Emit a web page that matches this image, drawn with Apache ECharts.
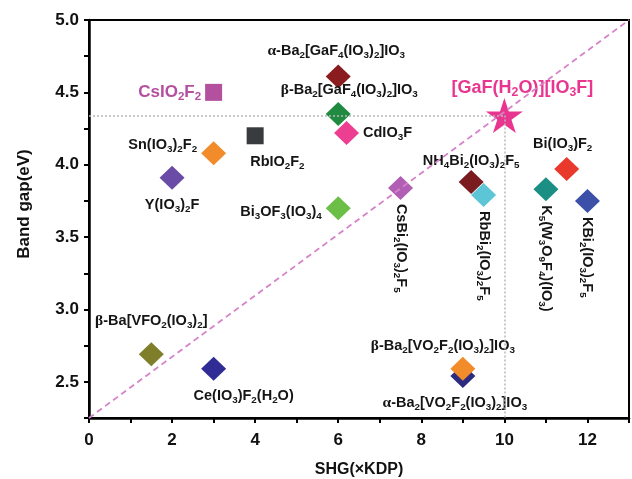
<!DOCTYPE html>
<html>
<head>
<meta charset="utf-8">
<script src="https://cdn.jsdelivr.net/npm/echarts@6/dist/echarts.min.js"></script>
<style>
  html, body { margin: 0; padding: 0; background: #fff; }
  #main { width: 632px; height: 479px; }
</style>
</head>
<body>
<div id="main"></div>
<script>
// compounds, SHG (x KDP) and band gap (eV); "_n" marks a subscript
const compounds = [
  'CsIO_2F_2', 'RbIO_2F_2', 'Sn(IO_3)_2F_2', 'Y(IO_3)_2F',
  'α-Ba_2[GaF_4(IO_3)_2]IO_3', 'β-Ba_2[GaF_4(IO_3)_2]IO_3', 'CdIO_3F', 'Bi_3OF_3(IO_3)_4',
  'CsBi_2(IO_3)_2F_5', 'NH_4Bi_2(IO_3)_2F_5', 'RbBi_2(IO_3)_2F_5', 'K_5(W_3O_9F_4)(IO_3)',
  'Bi(IO_3)F_2', 'KBi_2(IO_3)_2F_5', 'β-Ba[VFO_2(IO_3)_2]', 'Ce(IO_3)F_2(H_2O)',
  'α-Ba_2[VO_2F_2(IO_3)_2]IO_3', 'β-Ba_2[VO_2F_2(IO_3)_2]IO_3', '[GaF(H_2O)][IO_3F]'
]
const shg = [3.0, 4.0, 3.0, 2.0, 6.0, 6.0, 6.2, 6.0, 7.5, 9.2, 9.5, 11.0, 11.5, 12.0, 1.5, 3.0, 9.0, 9.0, 10.0]
const gap = [4.50, 4.20, 4.08, 3.91, 4.61, 4.35, 4.22, 3.70, 3.84, 3.88, 3.79, 3.83, 3.97, 3.75, 2.69, 2.59, 2.54, 2.59, 4.34]

const xTicks = [0, 2, 4, 6, 8, 10, 12]
const yTicks = [2.5, 3.0, 3.5, 4.0, 4.5, 5.0]

// styles
const colors = ['#b3519f', '#3a3b3e', '#f28b2a', '#6a4ba6', '#8a1c20', '#1f8a40', '#ec3f91', '#6cbf46',
  '#b15fb4', '#7a1b20', '#5cc6d6', '#1c8f84', '#e8392c', '#3c50a7', '#7f7e2a', '#2f2d95',
  '#2c2b80', '#f28b2a', '#e8358f']
const shapes = ['rect', 'rect', 'diamond', 'diamond', 'diamond', 'diamond', 'diamond', 'diamond',
  'diamond', 'diamond', 'diamond', 'diamond', 'diamond', 'diamond', 'diamond', 'diamond',
  'diamond', 'diamond', 'star']
// label placement: [position, dx, dy, rotated, align]
const labelPlace = [
  ['left', 0, 0], ['bottom', -5, 4, false, 'left'], ['left', 0, -8], ['bottom', 0, 2],
  ['top', -2, 0], ['top', 11, 1], ['right', 0, 0], ['left', 0, 4],
  ['bottom', 0, 0, true], ['top', 0, 4], ['bottom', 0, 0, true], ['bottom', 0, 0, true],
  ['top', -4, 0], ['bottom', 0, 0, true], ['top', 0, -8], ['bottom', 30, 2],
  ['bottom', -8, 2], ['top', -20, 2], ['top', 18, 5]
]

const starPath = 'path://M100,0 L122.5,69.1 L195.1,69.1 L136.3,111.8 L158.8,180.9 L100,138.2 L41.2,180.9 L63.7,111.8 L4.9,69.1 L77.5,69.1 Z'

function richText(name) {
  return name.replace(/([αβ])/g, '{g|$1}').replace(/_(\d)/g, '{s|$1}')
}

function makeLabel(i) {
  const p = labelPlace[i]
  const big = i === 0 || i === 18
  const fs = i === 18 ? 18 : (i === 0 ? 17 : 14.5)
  const color = big ? colors[i] : '#151515'
  const lab = {
    show: true,
    formatter: richText(compounds[i]),
    position: p[0],
    offset: [p[1], p[2]],
    distance: 4,
    color: color,
    fontFamily: 'Liberation Sans',
    fontWeight: 'bold',
    fontSize: fs,
    lineHeight: fs + 4,
    rich: {
      s: { fontSize: fs * 0.68, fontWeight: 'bold', color: color, fontFamily: 'Liberation Sans',
           verticalAlign: 'bottom', lineHeight: fs * 0.7 },
      g: { fontSize: fs + 1, fontFamily: 'Liberation Serif', color: color, lineHeight: fs + 4 }
    }
  }
  if (p[3]) {
    lab.rotate = -90
    lab.align = 'left'
    lab.verticalAlign = 'middle'
  }
  if (p[4]) lab.align = p[4]
  return lab
}

const points = compounds.map(function (n, i) {
  const isStar = shapes[i] === 'star'
  return {
    name: n,
    value: [shg[i], gap[i]],
    symbol: isStar ? starPath : shapes[i],
    symbolSize: isStar ? [37, 35] : (shapes[i] === 'rect' ? 17 : [25, 24]),
    itemStyle: { color: colors[i], opacity: 1 },
    label: makeLabel(i)
  }
})

const isTick = (v, list) => list.some(t => Math.abs(t - v) < 1e-6)

let myChart = echarts.init(document.getElementById('main'))

myChart.setOption({
  animation: false,
  grid: {
    left: 89, right: 3, top: 20, bottom: 61,
    outerBoundsMode: 'none',
    show: true, borderColor: '#000', borderWidth: 2
  },
  xAxis: {
    type: 'value',
    min: 0, max: 13, interval: 1,
    name: 'SHG(×KDP)',
    nameLocation: 'middle',
    nameGap: 44,
    nameTextStyle: { fontFamily: 'Liberation Sans', fontWeight: 'bold', fontSize: 16, color: '#111' },
    axisLine: { lineStyle: { color: '#000', width: 2.5 } },
    axisTick: { inside: false, length: 5, lineStyle: { color: '#000', width: 2 } },
    axisLabel: {
      margin: 14,
      fontFamily: 'Liberation Sans', fontWeight: 'bold', fontSize: 17, color: '#111',
      formatter: v => isTick(v, xTicks) ? String(v) : ''
    },
    splitLine: { show: false }
  },
  yAxis: {
    type: 'value',
    min: 2.25, max: 5, interval: 0.25,
    name: 'Band gap(eV)',
    nameLocation: 'middle',
    nameGap: 56,
    nameTextStyle: { fontFamily: 'Liberation Sans', fontWeight: 'bold', fontSize: 17, color: '#111', padding: [0, 0, 0, 30] },
    axisLine: { lineStyle: { color: '#000', width: 2.5 } },
    axisTick: { inside: false, length: 5, lineStyle: { color: '#000', width: 2 } },
    axisLabel: {
      margin: 10,
      fontFamily: 'Liberation Sans', fontWeight: 'bold', fontSize: 17, color: '#111',
      formatter: v => isTick(v, yTicks) ? v.toFixed(1) : ''
    },
    splitLine: { show: false }
  },
  series: [
    {
      // grey dotted guides to the star
      type: 'scatter',
      data: [],
      z: 1,
      markLine: {
        silent: true,
        symbol: ['none', 'none'],
        label: { show: false },
        data: [
          [{ coord: [0, 4.34], lineStyle: { color: '#b8b8b8', type: [2, 2], width: 1.5 } }, { coord: [10, 4.34] }],
          [{ coord: [10, 4.34], lineStyle: { color: '#b8b8b8', type: [2, 2], width: 1.5 } }, { coord: [10, 2.25] }]
        ]
      }
    },
    {
      type: 'scatter',
      z: 3,
      data: points
    },
    {
      // pink dashed diagonal, drawn over the marks
      type: 'scatter',
      data: [],
      z: 5,
      markLine: {
        silent: true,
        symbol: ['none', 'none'],
        label: { show: false },
        data: [
          [{ coord: [0, 2.25], lineStyle: { color: '#d683c9', type: [6, 4], width: 1.8 } }, { coord: [13, 5.0] }]
        ]
      }
    }
  ]
})
</script>
</body>
</html>
